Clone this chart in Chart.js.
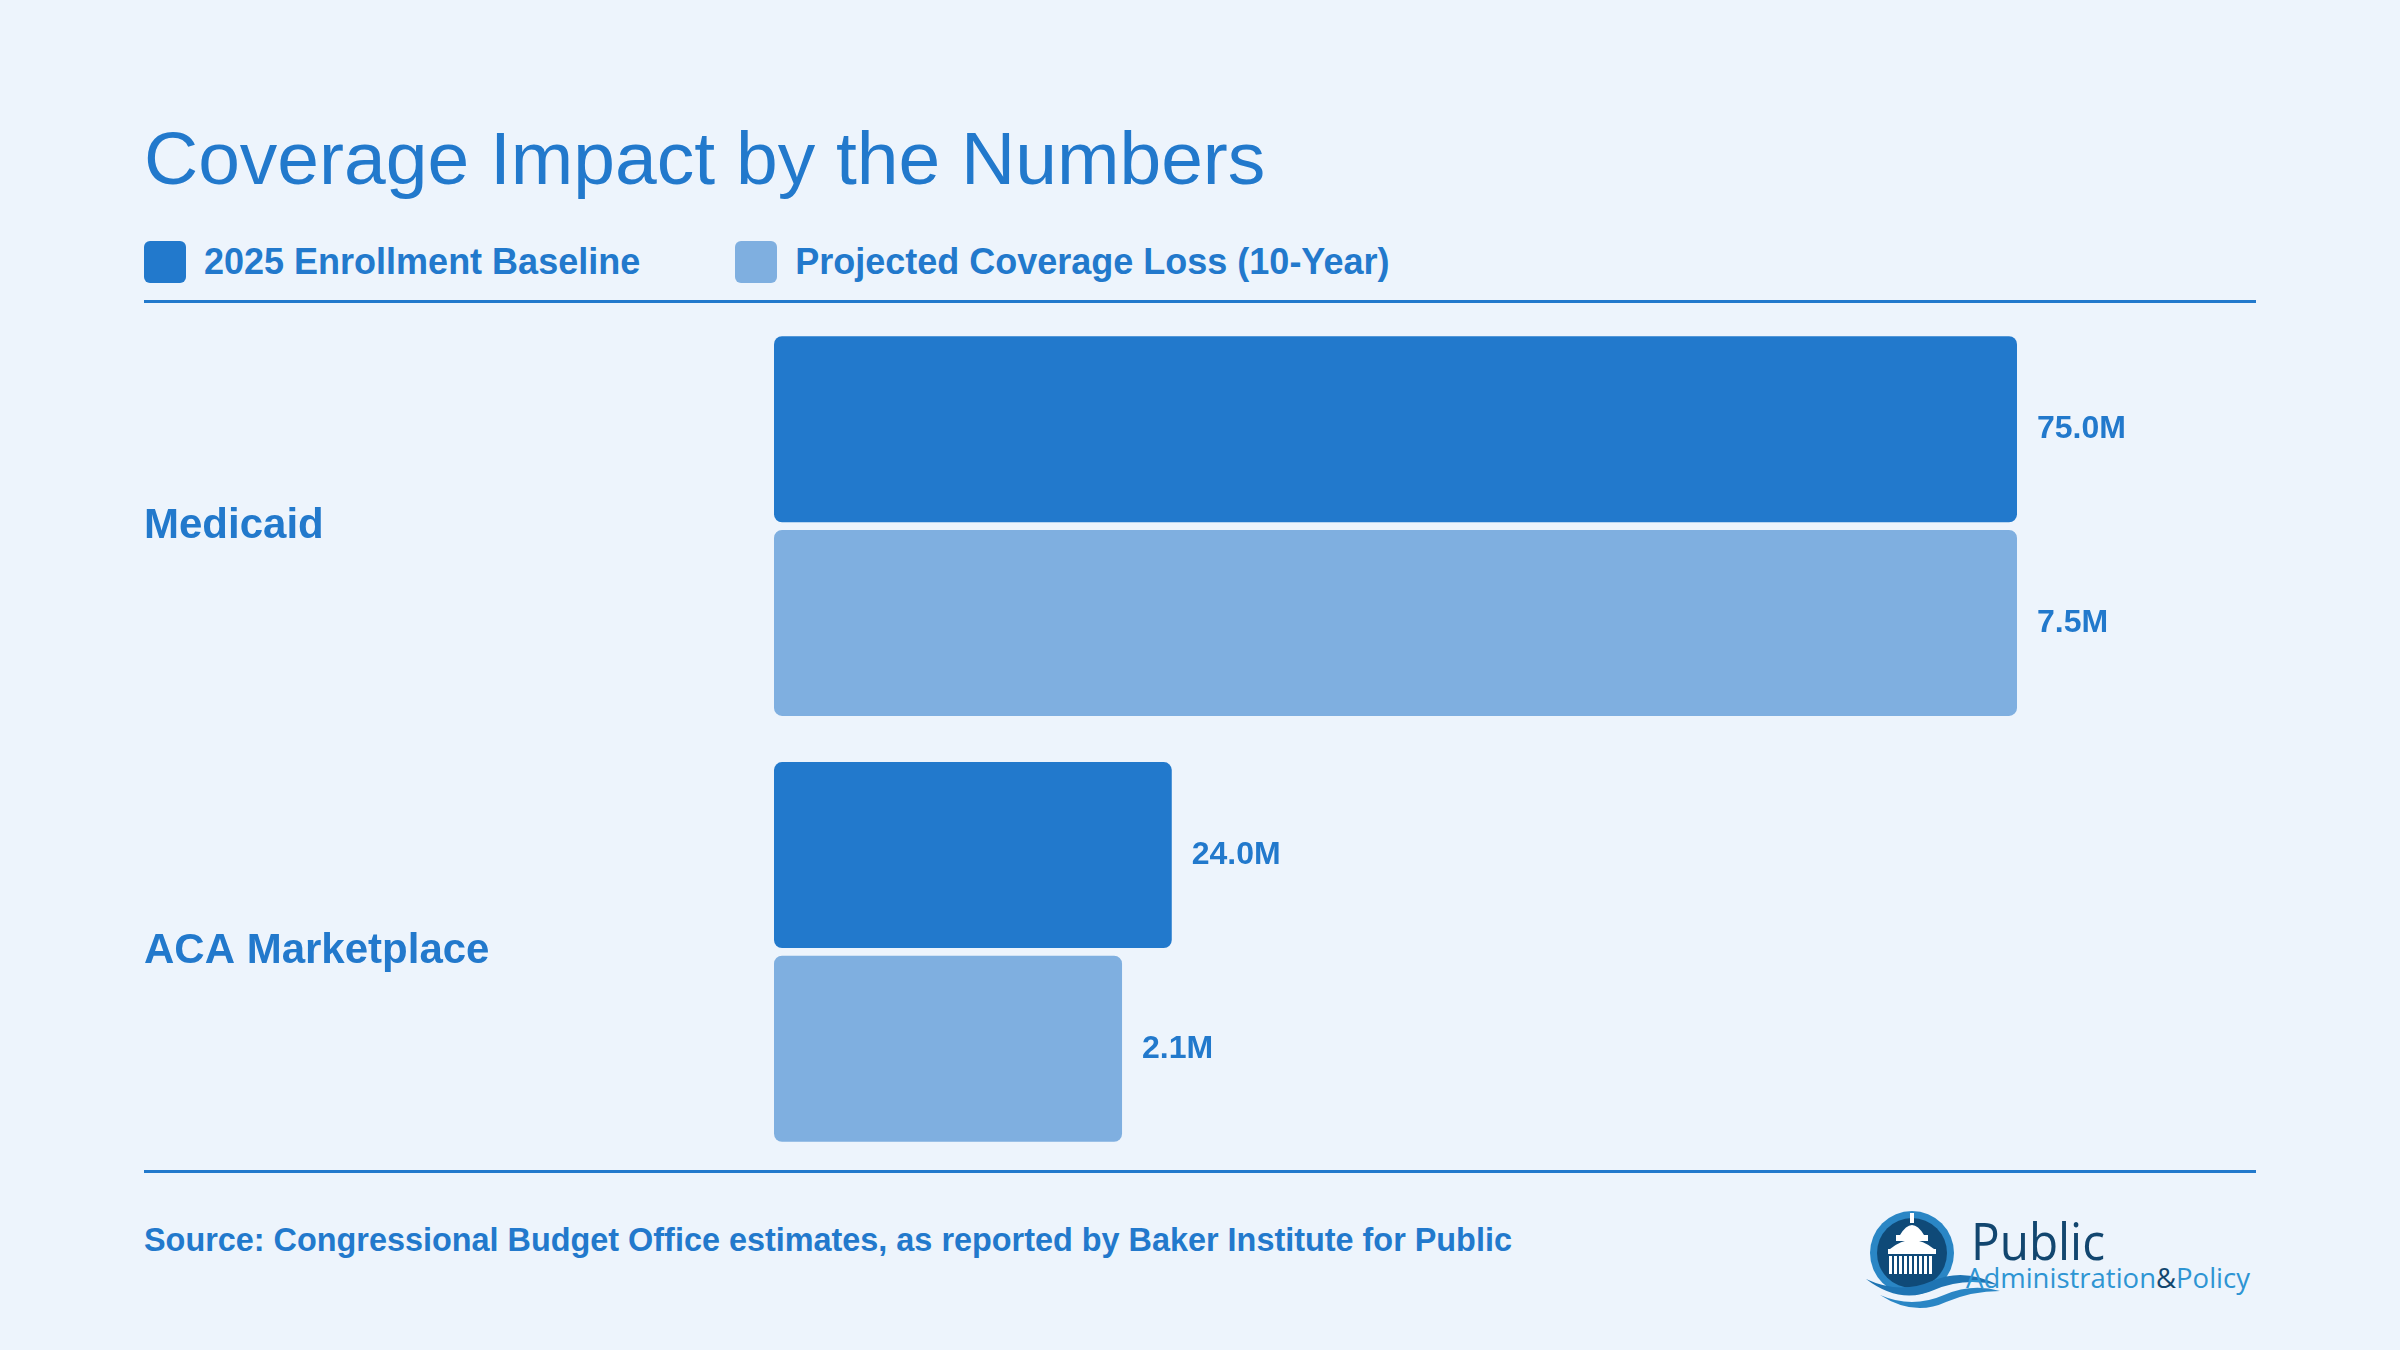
<!DOCTYPE html>
<html>
<head>
<meta charset="utf-8">
<script src="https://cdn.jsdelivr.net/npm/chart.js@4/dist/chart.umd.min.js"></script>
<style>
  html, body { margin:0; padding:0; }
  body { width:2400px; height:1350px; background:#EDF4FC; position:relative; overflow:hidden; font-family:"Liberation Sans", Arial, sans-serif; color:#2279CC; }
  #title { position:absolute; left:144px; top:121px; font-size:75px; line-height:1; font-weight:normal; white-space:nowrap; }
  #legend { position:absolute; left:144px; top:241px; display:flex; align-items:center; height:42px; }
  .item { display:flex; align-items:center; margin-right:0; }
  .sw { width:42px; height:42px; border-radius:6px; margin-right:18px; }
  .lt { font-size:36px; font-weight:bold; line-height:42px; white-space:nowrap; }
  .rule { position:absolute; left:144px; width:2112px; height:3px; background:#2279CC; }
  #wrap { position:absolute; left:144px; top:288px; width:2112px; height:902px; }
  #source { position:absolute; left:144px; top:1224px; font-size:32.4px; font-weight:bold; line-height:1; white-space:nowrap; }
  #logo { position:absolute; left:1860px; top:1195px; }
</style>
</head>
<body>
<div id="title">Coverage Impact by the Numbers</div>
<div id="legend"></div>
<div class="rule" style="top:300px"></div>
<div id="wrap"><canvas id="c"></canvas></div>
<div class="rule" style="top:1170px"></div>
<div id="source">Source: Congressional Budget Office estimates, as reported by Baker Institute for Public</div>
<svg id="logo" width="420" height="140" viewBox="0 0 420 140">
  <circle cx="52" cy="58" r="42" fill="#2A86C5"/>
  <circle cx="52" cy="58" r="35" fill="#0F4A78"/>
  <rect x="50" y="18" width="4" height="10" fill="#ffffff"/>
  <path d="M40 40 Q52 20 64 40 Z" fill="#ffffff"/>
  <rect x="36" y="40" width="32" height="6" fill="#ffffff"/>
  <path d="M30 54 Q52 36 74 54 Z" fill="#ffffff"/>
  <rect x="28" y="54" width="48" height="5" fill="#ffffff"/>
  <g fill="#ffffff">
    <rect x="29" y="61" width="3" height="18"/><rect x="34" y="61" width="3" height="18"/>
    <rect x="39" y="61" width="3" height="18"/><rect x="44" y="61" width="3" height="18"/>
    <rect x="49" y="61" width="3" height="18"/><rect x="54" y="61" width="3" height="18"/>
    <rect x="59" y="61" width="3" height="18"/><rect x="64" y="61" width="3" height="18"/>
    <rect x="69" y="61" width="3" height="18"/>
  </g>
  <path d="M6 84 Q40 100 72 86 Q104 72 138 90 Q104 82 74 95 Q40 110 6 84 Z" fill="#1E74B3"/>
  <path d="M20 100 Q52 114 84 100 Q112 88 140 96 Q112 96 86 107 Q54 122 20 100 Z" fill="#2A86C5"/>
  <text x="111" y="65" font-family="'Open Sans', sans-serif" font-size="52" fill="#12466F" textLength="134" lengthAdjust="spacingAndGlyphs">Public</text>
  <text x="106" y="93" font-family="'Open Sans', sans-serif" font-size="27" fill="#2E95D3" textLength="284" lengthAdjust="spacingAndGlyphs">Administration<tspan fill="#12466F">&amp;</tspan>Policy</text>
</svg>
<script>
const categories = ["Medicaid", "ACA Marketplace"];
const seriesNames = ["2025 Enrollment Baseline", "Projected Coverage Loss (10-Year)"];
const baselineValues = [75.0, 24.0];
const lossValues = [7.5, 2.1];
const valueSuffix = "M";

const MAIN = "#2279CC";
const LIGHT = "#7FAFE0";
const seriesColors = [MAIN, LIGHT];
const FONT = "'Liberation Sans', Arial, sans-serif";

const lg = document.getElementById('legend');
seriesNames.forEach((n, i) => {
  const it = document.createElement('div');
  it.className = 'item';
  if (i > 0) it.style.marginLeft = '95px';
  it.innerHTML = '<div class="sw" style="background:' + seriesColors[i] + '"></div><div class="lt">' + n + '</div>';
  lg.appendChild(it);
});

const valueLabels = {
  id: 'valueLabels',
  afterDatasetsDraw(chart) {
    const ctx = chart.ctx;
    ctx.save();
    ctx.font = 'bold 32px ' + FONT;
    ctx.fillStyle = MAIN;
    ctx.textAlign = 'left';
    ctx.textBaseline = 'middle';
    chart.data.datasets.forEach((ds, di) => {
      const meta = chart.getDatasetMeta(di);
      meta.data.forEach((bar, i) => {
        ctx.fillText(ds.data[i].toFixed(1) + valueSuffix, bar.x + 20, bar.y);
      });
    });
    ctx.restore();
  }
};

new Chart(document.getElementById('c'), {
  type: 'bar',
  data: {
    labels: categories,
    datasets: [
      { label: seriesNames[0], data: baselineValues, backgroundColor: MAIN, xAxisID: 'x',
        borderRadius: 8, borderSkipped: false, barPercentage: 0.96, categoryPercentage: 0.91 },
      { label: seriesNames[1], data: lossValues, backgroundColor: LIGHT, xAxisID: 'x2',
        borderRadius: 8, borderSkipped: false, barPercentage: 0.96, categoryPercentage: 0.91 }
    ]
  },
  options: {
    indexAxis: 'y',
    responsive: true,
    maintainAspectRatio: false,
    animation: false,
    layout: { padding: { right: 239, top: 0, bottom: 0, left: 0 } },
    plugins: { legend: { display: false }, tooltip: { enabled: false } },
    scales: {
      x: { display: false, min: 0, max: Math.max(...baselineValues) },
      x2: { display: false, min: 0, max: Math.max(...lossValues) },
      y: {
        grid: { display: false },
        border: { display: false },
        ticks: { crossAlign: 'far', padding: 0, color: MAIN, font: { family: FONT, size: 42, weight: 'bold' } },
        afterFit(scale) { scale.width = 630; }
      }
    }
  },
  plugins: [valueLabels]
});
</script>
</body>
</html>
